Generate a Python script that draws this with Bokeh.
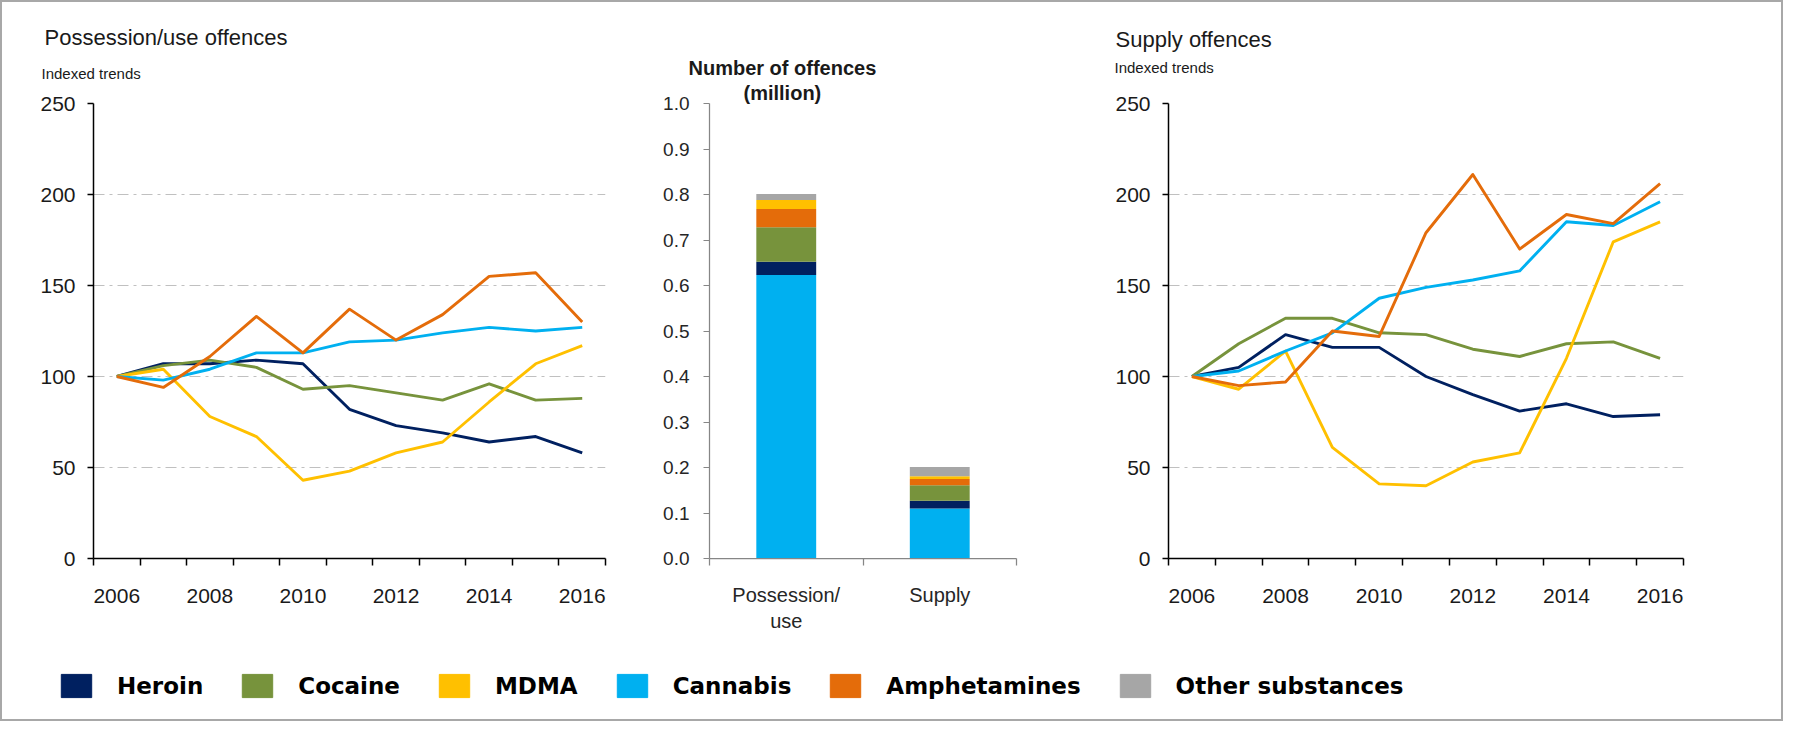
from bokeh.plotting import figure
from bokeh.models import Range1d, FixedTicker, Title, Legend, LegendItem, ColumnDataSource, NumeralTickFormatter
from bokeh.layouts import column, row
from bokeh.embed import file_html
from bokeh.resources import INLINE

# ---------------- data ----------------
years = [2006, 2007, 2008, 2009, 2010, 2011, 2012, 2013, 2014, 2015, 2016]
year_tick_labels = [2006, 2008, 2010, 2012, 2014, 2016]
index_ticks = [0, 50, 100, 150, 200, 250]

substances = ["Heroin", "Cocaine", "MDMA", "Cannabis", "Amphetamines", "Other substances"]
colors = {
    "Heroin": "#002060",
    "Cocaine": "#77933C",
    "MDMA": "#FFC000",
    "Cannabis": "#00B0F0",
    "Amphetamines": "#E46C0A",
    "Other substances": "#A6A6A6",
}

# Possession/use offences, indexed (2006 = 100)
pos_heroin = [100, 107, 107, 109, 107, 82, 73, 69, 64, 67, 58]
pos_cocaine = [100, 106, 109, 105, 93, 95, 91, 87, 96, 87, 88]
pos_mdma = [100, 104, 78, 67, 43, 48, 58, 64, 86, 107, 117]
pos_cannabis = [100, 98, 104, 113, 113, 119, 120, 124, 127, 125, 127]
pos_amph = [100, 94, 111, 133, 113, 137, 120, 134, 155, 157, 130]

# Supply offences, indexed (2006 = 100)
sup_heroin = [100, 105, 123, 116, 116, 100, 90, 81, 85, 78, 79]
sup_cocaine = [100, 118, 132, 132, 124, 123, 115, 111, 118, 119, 110]
sup_mdma = [100, 93, 114, 61, 41, 40, 53, 58, 110, 174, 185]
sup_cannabis = [100, 103, 114, 124, 143, 149, 153, 158, 185, 183, 196]
sup_amph = [100, 95, 97, 125, 122, 179, 211, 170, 189, 184, 206]

# Number of offences (million), stacked
bar_categories = ["Possession/\nuse", "Supply"]
bar_stack_order = ["Cannabis", "Heroin", "Cocaine", "Amphetamines", "MDMA", "Other substances"]
bar_cannabis = [0.623, 0.110]
bar_heroin = [0.029, 0.017]
bar_cocaine = [0.076, 0.034]
bar_amph = [0.040, 0.014]
bar_mdma = [0.020, 0.006]
bar_other = [0.013, 0.020]
bar_yticks = [0.0, 0.1, 0.2, 0.3, 0.4, 0.5, 0.6, 0.7, 0.8, 0.9, 1.0]

possession = {"Heroin": pos_heroin, "Cocaine": pos_cocaine, "MDMA": pos_mdma,
              "Cannabis": pos_cannabis, "Amphetamines": pos_amph}
supply = {"Heroin": sup_heroin, "Cocaine": sup_cocaine, "MDMA": sup_mdma,
          "Cannabis": sup_cannabis, "Amphetamines": sup_amph}
bars = {"Cannabis": bar_cannabis, "Heroin": bar_heroin, "Cocaine": bar_cocaine,
        "Amphetamines": bar_amph, "MDMA": bar_mdma, "Other substances": bar_other}

FONT = "Liberation Sans"
H = 640


def add_title(p, text, size, offset, standoff, bold=False):
    p.add_layout(Title(text=text, align="left", offset=offset, standoff=standoff,
                       text_font=FONT, text_font_size=size, text_color="#1a1a1a",
                       text_font_style="bold" if bold else "normal"), "above")


def trend_fig(title, data, width, lb, rb, tb, bb, toff, tstand, soff, sstand):
    p = figure(width=width, height=H, x_range=Range1d(2005.5, 2016.5), y_range=Range1d(0, 250),
               output_backend="svg", toolbar_location=None,
               min_border_left=lb, min_border_right=rb, min_border_top=tb, min_border_bottom=bb)
    p.outline_line_color = None
    p.xgrid.visible = False
    p.ygrid.grid_line_color = "#c0c0c0"
    p.ygrid.grid_line_dash = "11 5 3 5"
    p.ygrid.grid_line_width = 1
    for s in ["Heroin", "Cocaine", "MDMA", "Cannabis", "Amphetamines"]:
        p.line(years, data[s], line_color=colors[s], line_width=2.9, line_join="round")
    xa = p.xaxis[0]
    xa.ticker = FixedTicker(ticks=year_tick_labels,
                            minor_ticks=[y - 0.5 for y in years] + [years[-1] + 0.5])
    xa.major_tick_out = 0
    xa.major_tick_in = 0
    xa.minor_tick_out = 7
    xa.minor_tick_in = 0
    xa.major_label_standoff = 23
    xa.major_label_text_font_size = "21px"
    ya = p.yaxis[0]
    ya.ticker = FixedTicker(ticks=index_ticks)
    ya.major_tick_out = 6
    ya.major_tick_in = 0
    ya.minor_tick_out = 0
    ya.minor_tick_in = 0
    ya.major_label_standoff = 12
    ya.major_label_text_font_size = "21px"
    for ax in (xa, ya):
        ax.axis_line_color = "#000000"
        ax.axis_line_width = 1.5
        ax.major_tick_line_color = "#000000"
        ax.major_tick_line_width = 1.5
        ax.minor_tick_line_color = "#000000"
        ax.minor_tick_line_width = 1.5
        ax.major_label_text_font = FONT
        ax.major_label_text_color = "#1a1a1a"
    add_title(p, "Indexed trends", "15px", soff, sstand)
    add_title(p, title, "22px", toff, tstand)
    return p


p1 = trend_fig("Possession/use  offences", possession, 655, 91, 52, 97, 78, -49, -16, -52, 43)
p3 = trend_fig("Supply offences", supply, 689, 76, 98, 101, 84, -53, -44, -54, 55)

# ---------------- middle bar chart ----------------
p2 = figure(width=435, height=H, x_range=Range1d(0, len(bar_categories)), y_range=Range1d(0, 1),
            output_backend="svg", toolbar_location=None,
            min_border_left=52, min_border_right=76, min_border_top=94, min_border_bottom=79)
p2.outline_line_color = None
p2.grid.visible = False
xs = [i + 0.5 for i in range(len(bar_categories))]
src = ColumnDataSource(dict(x=xs, **{s: bars[s] for s in bar_stack_order}))
p2.vbar_stack(bar_stack_order, x="x", width=0.39, source=src,
              fill_color=[colors[s] for s in bar_stack_order], line_color=None)
xa = p2.xaxis[0]
xa.ticker = FixedTicker(ticks=xs, minor_ticks=list(range(len(bar_categories) + 1)))
xa.major_label_overrides = {x: c for x, c in zip(xs, bar_categories)}
xa.major_tick_out = 0
xa.major_tick_in = 0
xa.minor_tick_out = 7
xa.minor_tick_in = 0
xa.major_label_standoff = 18
ya = p2.yaxis[0]
ya.ticker = FixedTicker(ticks=bar_yticks)
ya.formatter = NumeralTickFormatter(format="0.0")
ya.major_tick_out = 6
ya.major_tick_in = 0
ya.minor_tick_out = 0
ya.minor_tick_in = 0
ya.major_label_standoff = 14
for ax in (xa, ya):
    ax.axis_line_color = "#868686"
    ax.axis_line_width = 1.25
    ax.major_tick_line_color = "#868686"
    ax.minor_tick_line_color = "#868686"
    ax.minor_tick_line_width = 1.25
    ax.major_label_text_font = FONT
    ax.major_label_text_color = "#262626"
ya.major_label_text_font_size = "19px"
xa.major_label_text_font_size = "20px"
add_title(p2, "(million)", "20px", 34, 0, bold=True)
add_title(p2, "Number of offences", "20px", -21, 1, bold=True)

# ---------------- legend strip ----------------
lf = figure(width=1779, height=77, x_range=Range1d(0, 1), y_range=Range1d(0, 1),
            output_backend="svg", toolbar_location=None,
            x_axis_location=None, y_axis_location=None, min_border=0)
lf.outline_line_color = None
lf.grid.visible = False
items = []
for s in substances:
    r = lf.vbar(x=[0], top=[0], width=0, fill_color=colors[s], line_color=colors[s])
    items.append(LegendItem(label=s, renderers=[r]))
leg = Legend(items=items, orientation="horizontal", location=(55, 19),
             glyph_width=38, glyph_height=29, label_standoff=22, spacing=35, label_height=29,
             padding=0, margin=0, border_line_color=None, background_fill_alpha=0,
             label_text_font="DejaVu Sans", label_text_font_style="bold",
             label_text_font_size="23px", label_text_color="#000000",
             label_text_baseline="middle")
lf.add_layout(leg)

layout = column(row(p1, p2, p3), lf, styles={"border": "2px solid #a8a8a8"})

open("out.html", "w").write(file_html(layout, INLINE))
